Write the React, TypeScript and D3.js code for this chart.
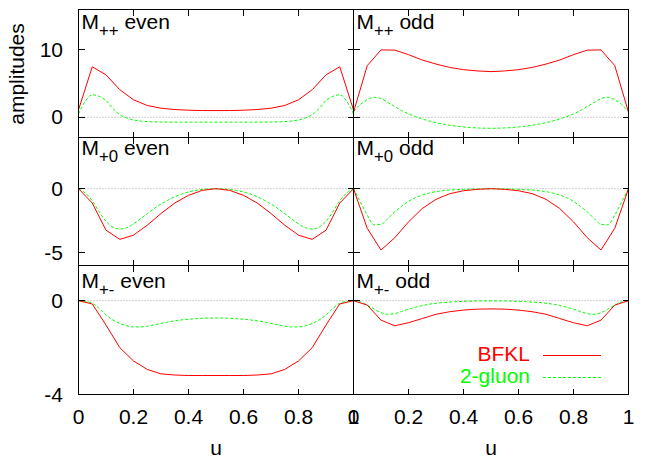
import React from 'react';
import * as d3 from 'd3';

// u grid of the BFKL curves (drawn as polylines) and of the 2-gluon curves (smooth)
const uBfkl = [0, 0.05, 0.1, 0.15, 0.2, 0.25, 0.3, 0.35, 0.4, 0.45, 0.5, 0.55, 0.6, 0.65, 0.7, 0.75, 0.8, 0.85, 0.9, 0.95, 1];
const uGluon = [0, 0.025, 0.05, 0.075, 0.1, 0.125, 0.15, 0.175, 0.2, 0.225, 0.25, 0.275, 0.3, 0.325, 0.35, 0.375, 0.4, 0.425, 0.45, 0.475, 0.5,
  0.525, 0.55, 0.575, 0.6, 0.625, 0.65, 0.675, 0.7, 0.725, 0.75, 0.775, 0.8, 0.825, 0.85, 0.875, 0.9, 0.925, 0.95, 0.975, 1];

// M++ even
const bfklPPEven = [1.1, 7.5, 6.3, 4.1, 2.6, 1.75, 1.35, 1.15, 1.05, 1.0, 1.0, 1.0, 1.05, 1.15, 1.35, 1.75, 2.6, 4.1, 6.3, 7.5, 1.1];
const gluonPPEven = [0.5, 2.4, 3.35, 3.1, 2.5, 1.3, 0.4, -0.1, -0.4, -0.55, -0.64, -0.68, -0.7, -0.71, -0.72, -0.72, -0.72, -0.72, -0.72, -0.72, -0.72,
  -0.72, -0.72, -0.72, -0.72, -0.72, -0.72, -0.71, -0.7, -0.68, -0.64, -0.55, -0.4, -0.1, 0.4, 1.3, 2.5, 3.1, 3.35, 2.4, 0.5];
// M++ odd
const bfklPPOdd = [0.75, 7.67, 10.0, 9.97, 9.3, 8.5, 7.9, 7.4, 7.07, 6.88, 6.78, 6.88, 7.07, 7.4, 7.9, 8.5, 9.3, 9.97, 10.0, 7.67, 0.75];
const gluonPPOdd = [0.85, 1.9, 2.6, 2.97, 2.78, 2.2, 1.6, 1.0, 0.5, 0.1, -0.24, -0.55, -0.8, -1.0, -1.18, -1.32, -1.43, -1.52, -1.58, -1.62, -1.63,
  -1.62, -1.58, -1.52, -1.43, -1.32, -1.18, -1.0, -0.8, -0.55, -0.24, 0.1, 0.5, 1.0, 1.6, 2.2, 2.78, 2.97, 2.6, 1.9, 0.85];
// M+0 even
const bfklP0Even = [0, -1.12, -3.24, -3.96, -3.63, -2.85, -1.94, -1.12, -0.52, -0.13, 0, -0.13, -0.52, -1.12, -1.94, -2.85, -3.63, -3.96, -3.24, -1.12, 0];
const gluonP0Even = [0, -0.35, -0.95, -1.8, -2.55, -3.0, -3.15, -3.05, -2.75, -2.35, -1.95, -1.55, -1.2, -0.9, -0.63, -0.42, -0.26, -0.14, -0.06, -0.015, 0,
  -0.015, -0.06, -0.14, -0.26, -0.42, -0.63, -0.9, -1.2, -1.55, -1.95, -2.35, -2.75, -3.05, -3.15, -3.0, -2.55, -1.8, -0.95, -0.35, 0];
// M+0 odd
const bfklP0Odd = [0, -3.1, -4.79, -3.83, -2.59, -1.55, -0.83, -0.39, -0.16, -0.05, 0, -0.05, -0.16, -0.39, -0.83, -1.55, -2.59, -3.83, -4.79, -3.1, 0];
const gluonP0Odd = [0, -1.04, -2.07, -2.82, -2.78, -2.33, -1.81, -1.37, -0.99, -0.7, -0.5, -0.34, -0.23, -0.16, -0.1, -0.08, -0.05, -0.03, -0.02, -0.01, 0,
  -0.01, -0.02, -0.03, -0.05, -0.08, -0.1, -0.16, -0.23, -0.34, -0.5, -0.7, -0.99, -1.37, -1.81, -2.33, -2.78, -2.82, -2.07, -1.04, 0];
// M+- even
const bfklPMEven = [0, -0.14, -1.04, -2.0, -2.57, -2.93, -3.12, -3.17, -3.19, -3.19, -3.19, -3.19, -3.19, -3.17, -3.12, -2.93, -2.57, -2.0, -1.04, -0.14, 0];
const gluonPMEven = [0, -0.03, -0.11, -0.33, -0.61, -0.82, -0.97, -1.07, -1.12, -1.12, -1.09, -1.03, -0.97, -0.91, -0.86, -0.82, -0.79, -0.77, -0.75, -0.74, -0.74,
  -0.74, -0.75, -0.77, -0.79, -0.82, -0.86, -0.91, -0.97, -1.03, -1.09, -1.12, -1.12, -1.07, -0.97, -0.82, -0.61, -0.33, -0.11, -0.03, 0];
// M+- odd
const bfklPMOdd = [0, -0.19, -0.83, -1.07, -0.94, -0.76, -0.58, -0.47, -0.4, -0.36, -0.35, -0.36, -0.4, -0.47, -0.58, -0.76, -0.94, -1.07, -0.83, -0.19, 0];
const gluonPMOdd = [0, -0.05, -0.19, -0.36, -0.51, -0.58, -0.55, -0.46, -0.36, -0.28, -0.21, -0.15, -0.11, -0.08, -0.06, -0.04, -0.03, -0.02, -0.01, -0.01, -0.01,
  -0.01, -0.01, -0.02, -0.03, -0.04, -0.06, -0.08, -0.11, -0.15, -0.21, -0.28, -0.36, -0.46, -0.55, -0.58, -0.51, -0.36, -0.19, -0.05, 0];

const rowSubscripts = ['++', '+0', '+-'];
const colParities = ['even', 'odd'];
const rowDomains: [number, number][] = [[-3, 16], [-6, 4], [-4, 1.5]];
const rowTicks = [[0, 10], [-5, 0], [-4, 0]];
const xTicks = [0, 0.2, 0.4, 0.6, 0.8, 1];
const xTickLabels = ['0', '0.2', '0.4', '0.6', '0.8', '1'];
const seriesNames = ['BFKL', '2-gluon'];
const yLabel = 'amplitudes';
const xLabel = 'u';

const bfklData = [[bfklPPEven, bfklPPOdd], [bfklP0Even, bfklP0Odd], [bfklPMEven, bfklPMOdd]];
const gluonData = [[gluonPPEven, gluonPPOdd], [gluonP0Even, gluonP0Odd], [gluonPMEven, gluonPMOdd]];

const RED = '#ff0000';
const GREEN = '#00ff00';
const FONT = 'Liberation Sans';
const FS = 21;
const FS_SUB = 16.8;

export default function App() {
  const W = 654, H = 458;
  const colX: [number, number][] = [[78.5, 353.5], [353.5, 628.5]];
  const rowY: [number, number][] = [[9.5, 137.5], [137.5, 265.5], [265.5, 394.5]];
  const titleOffset = [19.5, 17.7, 22.6];
  const tickLen = 6;

  const panels: JSX.Element[] = [];
  rowDomains.forEach((dom, r) => {
    const y = d3.scaleLinear().domain(dom).range([rowY[r][1], rowY[r][0]]);
    colParities.forEach((par, c) => {
      const x = d3.scaleLinear().domain([0, 1]).range(colX[c]);
      const redLine = d3.line<number>().x((_, i) => x(uBfkl[i])).y(d => y(d)).curve(d3.curveLinear);
      const greenLine = d3.line<number>().x((_, i) => x(uGluon[i])).y(d => y(d)).curve(d3.curveMonotoneX);
      const x0 = colX[c][0], x1 = colX[c][1], y0 = rowY[r][0], y1 = rowY[r][1];
      panels.push(
        <g key={`p${r}${c}`}>
          <line x1={x0} x2={x1} y1={y(0)} y2={y(0)} stroke="#a0a0a0" strokeWidth={1} strokeDasharray="1,2" />
          <path d={greenLine(gluonData[r][c]) || ''} fill="none" stroke={GREEN} strokeWidth={1} strokeDasharray="3,2" />
          <path d={redLine(bfklData[r][c]) || ''} fill="none" stroke={RED} strokeWidth={1} />
          <rect x={x0} y={y0} width={x1 - x0} height={y1 - y0} fill="none" stroke="#000" strokeWidth={1} shapeRendering="crispEdges" />
          {xTicks.map(t => (
            <g key={`xt${t}`} shapeRendering="crispEdges">
              <line x1={x(t)} x2={x(t)} y1={y0} y2={y0 + tickLen} stroke="#000" />
              <line x1={x(t)} x2={x(t)} y1={y1} y2={y1 - tickLen} stroke="#000" />
            </g>
          ))}
          {rowTicks[r].map(t => (
            <g key={`yt${t}`} shapeRendering="crispEdges">
              <line x1={x0} x2={x0 + tickLen} y1={y(t)} y2={y(t)} stroke="#000" />
              <line x1={x1} x2={x1 - tickLen} y1={y(t)} y2={y(t)} stroke="#000" />
            </g>
          ))}
          <text x={x0 + 3} y={y0 + titleOffset[r]} fontFamily={FONT} fontSize={FS} fill="#000">
            M<tspan fontSize={FS_SUB} dy={7}>{rowSubscripts[r]}</tspan>
            <tspan dy={-7}>{'\u00a0' + par}</tspan>
          </text>
          {c === 0 && rowTicks[r].map(t => (
            <text key={`yl${t}`} x={63} y={y(t) + 7} textAnchor="end" fontFamily={FONT} fontSize={FS} fill="#000">{t}</text>
          ))}
          {r === 2 && xTicks.map((t, i) => (
            <text key={`xl${t}`} x={x(t)} y={423.5} textAnchor="middle" fontFamily={FONT} fontSize={FS} fill="#000">{xTickLabels[i]}</text>
          ))}
          {r === 2 && (
            <text x={(x0 + x1) / 2} y={455} textAnchor="middle" fontFamily={FONT} fontSize={FS} fill="#000">{xLabel}</text>
          )}
        </g>
      );
    });
  });

  return (
    <svg width={W} height={H} style={{ position: 'absolute', left: 0, top: 0, background: '#fff' }}>
      <rect x={0} y={0} width={W} height={H} fill="#fff" />
      {panels}
      <text transform="translate(24,74) rotate(-90)" textAnchor="middle" fontFamily={FONT} fontSize={FS} fill="#000">{yLabel}</text>
      <text x={530} y={360.5} textAnchor="end" fontFamily={FONT} fontSize={FS} fill={RED}>{seriesNames[0]}</text>
      <line x1={543} x2={601} y1={355.5} y2={355.5} stroke={RED} strokeWidth={1} />
      <text x={530} y={383} textAnchor="end" fontFamily={FONT} fontSize={FS} fill={GREEN}>{seriesNames[1]}</text>
      <line x1={543} x2={601} y1={377.5} y2={377.5} stroke={GREEN} strokeWidth={1} strokeDasharray="3,2" />
    </svg>
  );
}
